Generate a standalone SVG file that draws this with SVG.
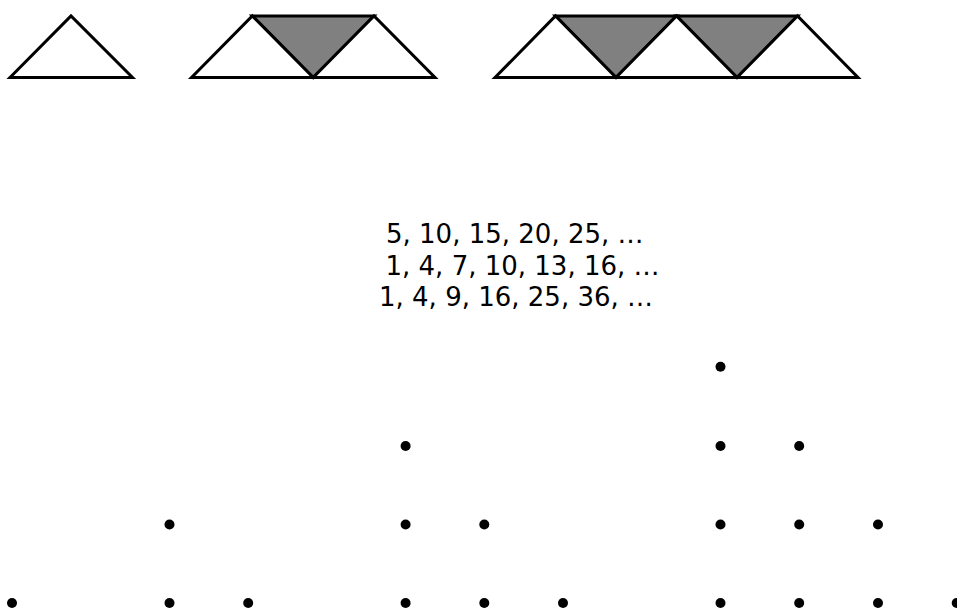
<svg xmlns="http://www.w3.org/2000/svg" width="957" height="608" viewBox="0 0 957 608">
<style>
.up{fill:#ffffff;stroke:#000;stroke-width:3;stroke-linejoin:miter}
.dn{fill:#808080;stroke:#000;stroke-width:3;stroke-linejoin:miter}
.seq{font-family:"DejaVu Sans",Verdana,sans-serif;font-size:26px;fill:#000}
.dot{fill:#000}
</style>
<rect width="957" height="608" fill="#fff"/>
<g id="fig1">
<polygon class="up" points="10,77.5 71,16 132.5,77.5"/>
</g>
<g id="fig2">
<polygon class="dn" points="252.3,16 374,16 313.2,77.5"/>
<polygon class="up" points="191.5,77.5 252.3,16 313.2,77.5"/>
<polygon class="up" points="313.2,77.5 374,16 435,77.5"/>
</g>
<g id="fig3">
<polygon class="dn" points="555.5,16 676.5,16 616,77.5"/>
<polygon class="dn" points="676.5,16 797.5,16 737,77.5"/>
<polygon class="up" points="495,77.5 555.5,16 616,77.5"/>
<polygon class="up" points="616,77.5 676.5,16 737,77.5"/>
<polygon class="up" points="737,77.5 797.5,16 858,77.5"/>
</g>
<g id="sequences">
<text class="seq" x="386" y="242.5">5, 10, 15, 20, 25, …</text>
<text class="seq" x="385.5" y="274.5">1, 4, 7, 10, 13, 16, …</text>
<text class="seq" x="379" y="305.5">1, 4, 9, 16, 25, 36, …</text>
</g>
<g id="dots1">
<circle class="dot" cx="12" cy="603" r="5"/>
</g>
<g id="dots2">
<circle class="dot" cx="169.5" cy="524.5" r="5"/>
<circle class="dot" cx="169.5" cy="603" r="5"/>
<circle class="dot" cx="248.2" cy="603" r="5"/>
</g>
<g id="dots3">
<circle class="dot" cx="405.6" cy="446" r="5"/>
<circle class="dot" cx="405.6" cy="524.5" r="5"/>
<circle class="dot" cx="484.3" cy="524.5" r="5"/>
<circle class="dot" cx="405.6" cy="603" r="5"/>
<circle class="dot" cx="484.3" cy="603" r="5"/>
<circle class="dot" cx="563" cy="603" r="5"/>
</g>
<g id="dots4">
<circle class="dot" cx="720.5" cy="366.7" r="5"/>
<circle class="dot" cx="720.5" cy="446" r="5"/>
<circle class="dot" cx="799.2" cy="446" r="5"/>
<circle class="dot" cx="720.5" cy="524.5" r="5"/>
<circle class="dot" cx="799.2" cy="524.5" r="5"/>
<circle class="dot" cx="878" cy="524.5" r="5"/>
<circle class="dot" cx="720.5" cy="603" r="5"/>
<circle class="dot" cx="799.2" cy="603" r="5"/>
<circle class="dot" cx="878" cy="603" r="5"/>
<circle class="dot" cx="956.7" cy="603" r="5"/>
</g>
</svg>
